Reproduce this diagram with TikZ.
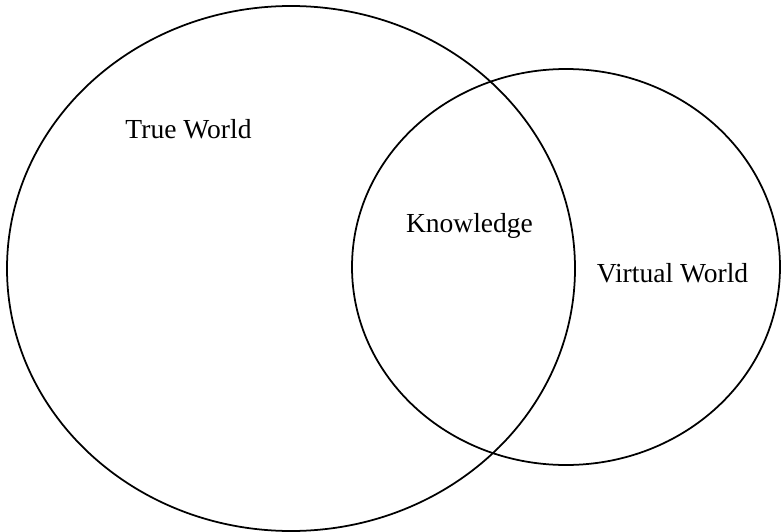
\documentclass[tikz,border=0pt]{standalone}
\usepackage{fontspec}
\setmainfont{Liberation Serif}
\begin{document}
\begin{tikzpicture}[
    x=0.03cm, y=-0.03cm,
    world/.style={draw, line width=1.5pt},
    label/.style={anchor=base, inner sep=0pt, font=\fontsize{23.5}{28}\selectfont}
]
  \useasboundingbox (0,0) rectangle (781,532);
  % the two worlds
  \draw[world] (291,268.5) ellipse [x radius=284, y radius=262.5];
  \draw[world] (566,267) ellipse [x radius=214, y radius=198];
  % labels
  \node[label] (truew) at (188.5,138) {True World};
  \node[label] (know) at (469.5,232) {Knowledge};
  \node[label] (virtw) at (672.5,282) {Virtual World};
\end{tikzpicture}
\end{document}
